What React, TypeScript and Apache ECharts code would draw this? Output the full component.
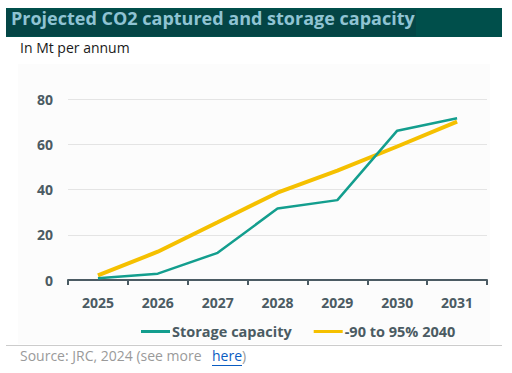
import React, { useEffect, useRef } from "react";
import * as echarts from "echarts";

const years = ["2025", "2026", "2027", "2028", "2029", "2030", "2031"];
const storageCapacity = [0.8, 2.8, 12, 31.6, 35.3, 66, 71.5];
const target2040 = [2, 12.5, 25.5, 38.6, 48.3, 59, 70];
const yTicks = [0, 20, 40, 60, 80];

const FONT = "'Open Sans', 'Noto Sans', sans-serif";
const AXIS_COLOR = "#4b5b63";

export default function App() {
  const ref = useRef<HTMLDivElement>(null);
  useEffect(() => {
    if (!ref.current) return;
    const chart = echarts.init(ref.current, null, { renderer: "svg" });
    chart.setOption({
      animation: false,
      backgroundColor: "#ffffff",
      textStyle: { fontFamily: FONT },
      grid: { left: 68, right: 25, top: 99, bottom: 93, containLabel: false },
      graphic: [
        { type: "rect", z: -10, shape: { x: 18, y: 64, width: 472, height: 280 }, style: { fill: "#fcfcfc" } },
        { type: "rect", shape: { x: 6, y: 8, width: 496, height: 29 }, style: { fill: "#004f4b" } },
        { type: "rect", shape: { x: 6, y: 10, width: 410, height: 26 }, style: { fill: "#044545" } },
        {
          type: "text",
          left: 11,
          top: 9,
          style: { text: "Projected CO2 captured and storage capacity", fill: "#8fc3d3", font: `bold 18px ${FONT}` },
        },
        {
          type: "text",
          left: 20,
          top: 40,
          style: { text: "In Mt per annum", fill: "#1a1a1a", font: `14px ${FONT}` },
        },
        { type: "line", shape: { x1: 6, y1: 345.5, x2: 502, y2: 345.5 }, style: { stroke: "#cccccc", lineWidth: 1 } },
        {
          type: "text",
          left: 20,
          top: 348,
          style: { text: "Source: JRC, 2024 (see more", fill: "#9a9a9a", font: `14px ${FONT}` },
        },
        {
          type: "text",
          left: 212,
          top: 348,
          style: { text: "here", fill: "#0a5cc2", font: `14px ${FONT}` },
        },
        {
          type: "text",
          left: 242,
          top: 348,
          style: { text: ")", fill: "#9a9a9a", font: `14px ${FONT}` },
        },
        { type: "line", shape: { x1: 212, y1: 365.5, x2: 242, y2: 365.5 }, style: { stroke: "#0a5cc2", lineWidth: 1 } },
      ],
      legend: {
        top: 319,
        left: 136,
        icon: "rect",
        itemWidth: 29,
        itemHeight: 3,
        itemGap: 22,
        textStyle: { color: AXIS_COLOR, fontSize: 14.5, fontWeight: "bold", fontFamily: FONT, padding: [0, 0, 0, -3] },
        data: ["Storage capacity", "-90 to 95% 2040"],
      },
      xAxis: {
        type: "category",
        data: years,
        boundaryGap: true,
        axisLine: { lineStyle: { color: AXIS_COLOR, width: 2 } },
        axisTick: { show: true, length: 5, lineStyle: { color: AXIS_COLOR, width: 2 } },
        axisLabel: { color: AXIS_COLOR, fontSize: 14, fontWeight: "bold", margin: 15, fontFamily: FONT },
      },
      yAxis: {
        type: "value",
        min: 0,
        max: 80,
        interval: 20,
        axisLine: { show: false },
        axisTick: { show: false },
        splitLine: { lineStyle: { color: "#e4e4e4", width: 1 } },
        axisLabel: {
          color: AXIS_COLOR,
          fontSize: 14,
          fontWeight: "bold",
          margin: 15,
          fontFamily: FONT,
          formatter: (v: number) => (yTicks.includes(v) ? String(v) : ""),
        },
      },
      series: [
        {
          name: "Storage capacity",
          type: "line",
          data: storageCapacity,
          symbol: "none",
          lineStyle: { color: "#139e8e", width: 2.5 },
          itemStyle: { color: "#139e8e" },
          z: 3,
        },
        {
          name: "-90 to 95% 2040",
          type: "line",
          data: target2040,
          symbol: "none",
          lineStyle: { color: "#f5c000", width: 4 },
          itemStyle: { color: "#f5c000" },
          z: 2,
        },
      ],
    });
    return () => chart.dispose();
  }, []);
  return <div ref={ref} style={{ position: "fixed", left: 0, top: 0, width: 512, height: 373 }} />;
}
